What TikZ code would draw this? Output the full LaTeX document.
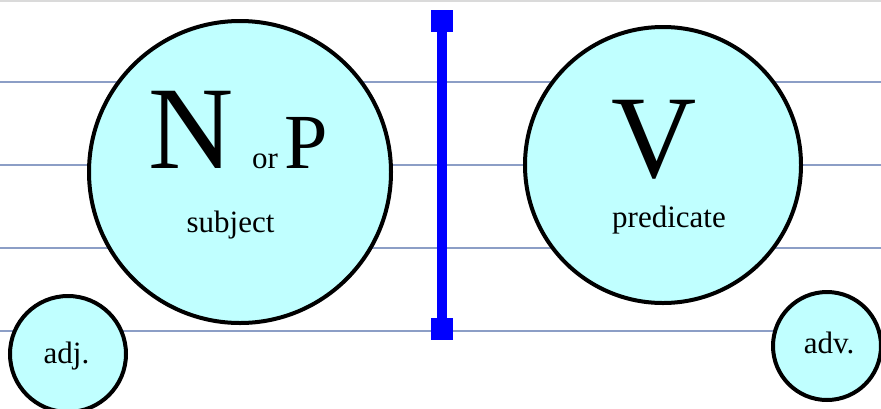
\documentclass[tikz,border=0pt]{standalone}
\usepackage{fontspec}
\setmainfont{Liberation Serif}
\definecolor{staff}{RGB}{140,158,198}
\definecolor{cfill}{RGB}{192,255,255}
\definecolor{topgray}{RGB}{218,218,218}
\begin{document}
\begin{tikzpicture}[x=1pt,y=-1pt,
  staffline/.style={draw=staff,line width=2pt},
  bubble/.style={circle,draw=black,fill=cfill,line width=4pt,inner sep=0pt},
  bigletter/.style={anchor=base,inner sep=0pt,font=\fontsize{118}{118}\selectfont},
  midletter/.style={anchor=base,inner sep=0pt,font=\fontsize{78}{78}\selectfont},
  label/.style={anchor=base,inner sep=0pt,font=\fontsize{31}{31}\selectfont},
  endsq/.style={fill=blue,minimum size=22pt,inner sep=0pt}]
\useasboundingbox (0,0) rectangle (881,408);
\clip (0,0) rectangle (881,408);
\fill[white] (0,0) rectangle (881,408);
\draw[topgray,line width=1.5pt] (0,0.75) -- (881,0.75);
% staff lines
\foreach \yy/\nm in {82/l1,165/l2,248/l3,331/l4}{
  \coordinate (\nm a) at (0,\yy);
  \coordinate (\nm b) at (881,\yy);
  \draw[staffline] (\nm a) -- (\nm b);
}
% circles
\node[bubble,minimum size=302pt] (subj) at (240,172) {};
\node[bubble,minimum size=276pt] (pred) at (663,165) {};
\node[bubble,minimum size=116pt] (adj) at (68,354) {};
\node[bubble,minimum size=108pt] (adv) at (827,346) {};
% texts
\node[bigletter] (N) at (191.5,168) {N};
\node[label] (or) at (265,168) {or};
\node[midletter] (P) at (306.5,168) {P};
\node[label] (subjt) at (230.5,232) {subject};
\node[bigletter] (V) at (654.5,177) {V};
\node[label] (predt) at (669,227) {predicate};
\node[label] (adjt) at (66.5,363) {adj.};
\node[label] (advt) at (829,353) {adv.};
% blue divider
\node[endsq] (top) at (442,21) {};
\node[endsq] (bot) at (442,329) {};
\draw[blue,line width=10pt] (top.center) -- (bot.center);
\end{tikzpicture}
\end{document}
